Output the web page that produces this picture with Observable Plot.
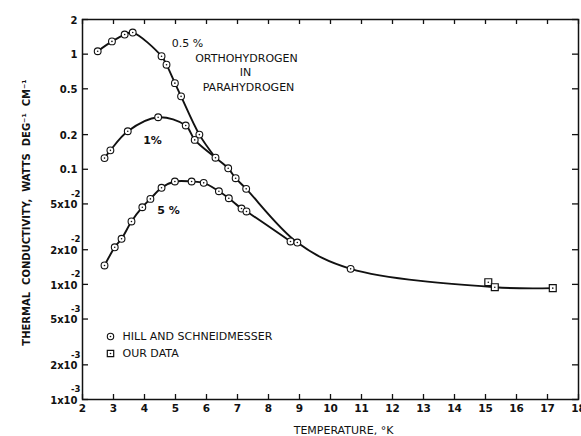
<!DOCTYPE html>
<html>
<head>
<meta charset="utf-8">
<script src="https://cdn.jsdelivr.net/npm/d3@7"></script>
<script src="https://cdn.jsdelivr.net/npm/@observablehq/plot@0.6"></script>
<style>
  html, body { margin: 0; padding: 0; background: #fff; }
  svg text { font-family: "DejaVu Sans", sans-serif; }
</style>
</head>
<body>
<div id="chart"></div>
<script>
// ---- data ----
// 0.5 % orthohydrogen in parahydrogen (Hill and Schneidmesser)
const t05 = [2.49, 2.95, 3.36, 3.62, 4.55, 4.71, 4.98, 5.18, 5.77];
const k05 = [1.06, 1.29, 1.48, 1.54, 0.96, 0.81, 0.56, 0.43, 0.200];
// 1 %
const t1 = [2.71, 2.90, 3.46, 4.44, 5.33, 5.62, 6.29, 6.70, 6.94, 7.28];
const k1 = [0.125, 0.146, 0.214, 0.283, 0.240, 0.180, 0.126, 0.102, 0.0836, 0.0676];
// 5 %
const t5 = [2.71, 3.04, 3.26, 3.58, 3.93, 4.19, 4.55, 4.98, 5.52, 5.91, 6.40, 6.72, 7.13, 7.29];
const k5 = [0.0146, 0.0210, 0.0249, 0.0352, 0.0468, 0.0553, 0.0690, 0.0783, 0.0783, 0.0762, 0.0644, 0.0560, 0.0456, 0.0430];
// merged high-temperature points (Hill and Schneidmesser)
const tTail = [8.71, 8.93, 10.65];
const kTail = [0.0236, 0.0231, 0.01365];
// our data
const tOur = [15.09, 15.30, 17.17];
const kOur = [0.01045, 0.00945, 0.00927];

// tick values / labels
const xTicks = [2, 3, 4, 5, 6, 7, 8, 9, 10, 11, 12, 13, 14, 15, 16, 17, 18];
const yTicks = [2, 1, 0.5, 0.2, 0.1, 0.05, 0.02, 0.01, 0.005, 0.002, 0.001];
const yTickBase = ["2", "1", "0.5", "0.2", "0.1", "5x10", "2x10", "1x10", "5x10", "2x10", "1x10"];
const yTickExp = ["", "", "", "", "", "-2", "-2", "-2", "-3", "-3", "-3"];

const zip = (t, k) => t.map((d, i) => ({T: d, k: k[i]}));
const s05 = zip(t05, k05);
const s1 = zip(t1, k1);
const s5 = zip(t5, k5);
const tail = zip(tTail, kTail);
const our = zip(tOur, kOur);

// line paths built from the series
const line05 = [...s05, s1[6]];
const line1 = [...s1, tail[1], tail[2], our[1], our[2]];
const line5 = [...s5, tail[0]];
const circles = [...s05, ...s1, ...s5, ...tail];

const W = 581, H = 436, mL = 82, mR = 3, mT = 19, mB = 37;
const innerW = W - mL - mR, innerH = H - mT - mB;
const ink = "#111";
const txt = {fontFamily: "DejaVu Sans, sans-serif", fill: ink, textAnchor: "middle", lineAnchor: "middle"};
const bold = {...txt, fontWeight: "bold"};

const chart = Plot.plot({
  width: W, height: H,
  marginLeft: mL, marginRight: mR, marginTop: mT, marginBottom: mB,
  x: {domain: [2, 18], axis: null},
  y: {type: "log", domain: [0.001, 2], axis: null},
  style: {background: "#fff", overflow: "visible"},
  marks: [
    Plot.frame({stroke: ink, strokeWidth: 1.5}),
    // inward ticks on all four sides
    Plot.tickX(xTicks, {x: d => d, insetTop: innerH - 5, stroke: ink, strokeWidth: 1.3}),
    Plot.tickX(xTicks, {x: d => d, insetBottom: innerH - 5, stroke: ink, strokeWidth: 1.3}),
    Plot.tickY(yTicks, {y: d => d, insetRight: innerW - 6, stroke: ink, strokeWidth: 1.3}),
    Plot.tickY(yTicks, {y: d => d, insetLeft: innerW - 6, stroke: ink, strokeWidth: 1.3}),
    // tick labels
    Plot.text(xTicks, {x: d => d, text: d => String(d), frameAnchor: "bottom", dy: 9, fontSize: 10.5, ...bold}),
    Plot.text(yTicks, {y: d => d, text: (d, i) => yTickBase[i], frameAnchor: "left", ...bold, textAnchor: "end", dx: -5, dy: 1, fontSize: 10}),
    Plot.text(yTicks, {y: d => d, text: (d, i) => yTickExp[i], frameAnchor: "left", ...bold, textAnchor: "end", dx: -2, dy: -10, fontSize: 8.5}),
    // axis titles
    Plot.text(["THERMAL  CONDUCTIVITY,  WATTS  DEG\u207B\u00B9  CM\u207B\u00B9"], {text: d => d, frameAnchor: "left", rotate: -90, dx: -56, dy: 3, fontSize: 10, ...bold, letterSpacing: 0.2}),
    Plot.text(["TEMPERATURE, \u00B0K"], {text: d => d, frameAnchor: "bottom", dx: 13, dy: 31, fontSize: 11, ...txt, letterSpacing: 1.5}),
    // curves
    Plot.line(line05, {x: "T", y: "k", curve: "catmull-rom", stroke: ink, strokeWidth: 1.9}),
    Plot.line(line1, {x: "T", y: "k", curve: "catmull-rom", stroke: ink, strokeWidth: 1.9}),
    Plot.line(line5, {x: "T", y: "k", curve: "catmull-rom", stroke: ink, strokeWidth: 1.9}),
    // markers
    Plot.dot(circles, {x: "T", y: "k", r: 3.4, fill: "#fff", stroke: ink, strokeWidth: 1.1}),
    Plot.dot(circles, {x: "T", y: "k", r: 0.8, fill: ink}),
    Plot.dot(our, {x: "T", y: "k", symbol: "square", r: 3.9, fill: "#fff", stroke: ink, strokeWidth: 1.2}),
    Plot.dot(our, {x: "T", y: "k", r: 0.8, fill: ink}),
    // annotations
    Plot.text(["0.5 %"], {text: d => d, frameAnchor: "top-left", dx: 105, dy: 24, fontSize: 11, ...txt}),
    Plot.text(["ORTHOHYDROGEN"], {text: d => d, frameAnchor: "top-left", dx: 164, dy: 39, fontSize: 11, ...txt, letterSpacing: 1.3}),
    Plot.text(["IN"], {text: d => d, frameAnchor: "top-left", dx: 163, dy: 53, fontSize: 11, ...txt, letterSpacing: 1.3}),
    Plot.text(["PARAHYDROGEN"], {text: d => d, frameAnchor: "top-left", dx: 166, dy: 68, fontSize: 11, ...txt, letterSpacing: 1.3}),
    Plot.text(["1%"], {text: d => d, frameAnchor: "top-left", dx: 70, dy: 121, fontSize: 11, ...bold}),
    Plot.text(["5 %"], {text: d => d, frameAnchor: "top-left", dx: 86, dy: 191, fontSize: 11, ...bold}),
    // legend
    Plot.dot([0], {frameAnchor: "bottom-left", dx: 28, dy: -63, r: 3.2, fill: "#fff", stroke: ink, strokeWidth: 1.1}),
    Plot.dot([0], {frameAnchor: "bottom-left", dx: 28, dy: -63, r: 0.8, fill: ink}),
    Plot.dot([0], {frameAnchor: "bottom-left", dx: 28, dy: -46, symbol: "square", r: 3.6, fill: "#fff", stroke: ink, strokeWidth: 1.2}),
    Plot.dot([0], {frameAnchor: "bottom-left", dx: 28, dy: -46, r: 0.8, fill: ink}),
    Plot.text(["HILL AND SCHNEIDMESSER"], {text: d => d, frameAnchor: "bottom-left", ...txt, textAnchor: "start", dx: 40, dy: -63, fontSize: 11, letterSpacing: 1.5}),
    Plot.text(["OUR DATA"], {text: d => d, frameAnchor: "bottom-left", ...txt, textAnchor: "start", dx: 40, dy: -46, fontSize: 11, letterSpacing: 1.5})
  ]
});
document.getElementById("chart").appendChild(chart);
</script>
</body>
</html>
